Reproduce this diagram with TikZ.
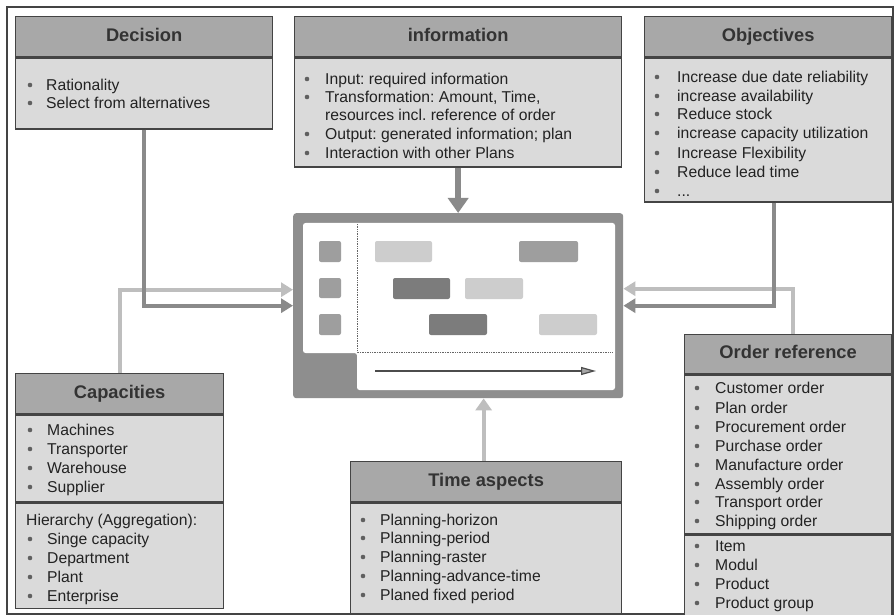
\documentclass[tikz,border=0pt]{standalone}
\usepackage{fontspec}
\setmainfont{Liberation Sans}
\usetikzlibrary{arrows.meta}
\frenchspacing

\definecolor{hdrgray}{HTML}{A8A8A8}
\definecolor{bodygray}{HTML}{DADADA}
\definecolor{edgegray}{HTML}{444444}
\definecolor{txtgray}{HTML}{222222}
\definecolor{bulletgray}{HTML}{606060}
\definecolor{framegray}{HTML}{8E8E8E}
\definecolor{barlight}{HTML}{CDCDCD}
\definecolor{barmid}{HTML}{9E9E9E}
\definecolor{bardark}{HTML}{7C7C7C}
\definecolor{flowdark}{HTML}{8A8A8A}
\definecolor{flowlight}{HTML}{BEBEBE}

% one bulleted line: name, bullet x, text x, y, text
\newcommand{\bitem}[5]{%
  \fill[bulletgray] (#2,#4) circle (2.3pt);
  \node[itemtext] (#1) at (#3,#4) {#5};}
% one plain line: name, text x, y, text
\newcommand{\pitem}[4]{\node[itemtext] (#1) at (#2,#3) {#4};}

\begin{document}
\begin{tikzpicture}[x=1pt,y=-1pt,
  hdr/.style={draw=edgegray, fill=hdrgray, line width=1.3pt, anchor=north west,
    inner sep=0pt, minimum height=40pt, text height=13pt, text depth=4pt,
    font=\fontsize{18.3}{22}\selectfont\bfseries, text=black!80},
  body/.style={draw=edgegray, fill=bodygray, line width=1.3pt, anchor=north west,
    inner sep=0pt},
  itemtext/.style={anchor=base west, inner sep=0pt, yshift=-5.5pt,
    font=\fontsize{15.7}{19}\selectfont, text=txtgray},
  flowline/.style={line width=4pt, line join=miter,
    -{Triangle[width=14pt,length=12pt]}},
  bar/.style={rounded corners=2pt}
]
\useasboundingbox (0,0) rectangle (895,615);
\fill[white] (0,0) rectangle (895,615);
\draw[edgegray, line width=1.2pt] (7,7) rectangle (893,614);

% ---------- Decision ----------
\node[hdr, minimum width=257pt] (decH) at (15,16) {Decision};
\node[body, minimum width=257pt, minimum height=71pt] (decB) at (decH.south west) {};
\bitem{dec1}{30}{46}{85}{Rationality}
\bitem{dec2}{30}{46}{103}{Select from alternatives}

% ---------- Information ----------
\node[hdr, minimum width=327pt] (infoH) at (294,16) {information};
\node[body, minimum width=327pt, minimum height=109pt] (infoB) at (infoH.south west) {};
\bitem{inf1}{307}{325}{79}{Input: required information}
\bitem{inf2}{307}{325}{97}{Transformation: Amount, Time,}
\pitem{inf3}{325}{115}{resources incl. reference of order}
\bitem{inf4}{307}{325}{134}{Output: generated information; plan}
\bitem{inf5}{307}{325}{153}{Interaction with other Plans}

% ---------- Objectives ----------
\node[hdr, minimum width=247pt] (objH) at (644,16) {Objectives};
\node[body, minimum width=247pt, minimum height=144pt] (objB) at (objH.south west) {};
\bitem{obj1}{657}{677}{77}{Increase due date reliability}
\bitem{obj2}{657}{677}{96}{increase availability}
\bitem{obj3}{657}{677}{114}{Reduce stock}
\bitem{obj4}{657}{677}{133}{increase capacity utilization}
\bitem{obj5}{657}{677}{153}{Increase Flexibility}
\bitem{obj6}{657}{677}{172}{Reduce lead time}
\bitem{obj7}{657}{677}{191}{...}

% ---------- Capacities ----------
\node[hdr, minimum width=208pt] (capH) at (15,373) {Capacities};
\node[body, minimum width=208pt, minimum height=87pt] (capB1) at (capH.south west) {};
\node[body, minimum width=208pt, minimum height=105pt] (capB2) at (capB1.south west) {};
\bitem{cap1}{30}{47}{430}{Machines}
\bitem{cap2}{30}{47}{449}{Transporter}
\bitem{cap3}{30}{47}{468}{Warehouse}
\bitem{cap4}{30}{47}{487}{Supplier}
\pitem{cap5}{26}{520}{Hierarchy (Aggregation):}
\bitem{cap6}{30}{47}{539}{Singe capacity}
\bitem{cap7}{30}{47}{558}{Department}
\bitem{cap8}{30}{47}{577}{Plant}
\bitem{cap9}{30}{47}{596}{Enterprise}

% ---------- Time aspects ----------
\node[hdr, minimum width=271pt] (timeH) at (350,461) {Time aspects};
\node[body, minimum width=271pt, minimum height=111pt] (timeB) at (timeH.south west) {};
\bitem{tim1}{363}{380}{520}{Planning-horizon}
\bitem{tim2}{363}{380}{538}{Planning-period}
\bitem{tim3}{363}{380}{557}{Planning-raster}
\bitem{tim4}{363}{380}{576}{Planning-advance-time}
\bitem{tim5}{363}{380}{595}{Planed fixed period}

% ---------- Order reference ----------
\node[hdr, minimum width=207pt, minimum height=39pt] (ordH) at (684,334) {Order reference};
\node[body, minimum width=207pt, minimum height=159pt] (ordB1) at (ordH.south west) {};
\node[body, minimum width=207pt, minimum height=81pt] (ordB2) at (ordB1.south west) {};
\bitem{ord1}{697}{715}{388}{Customer order}
\bitem{ord2}{697}{715}{408}{Plan order}
\bitem{ord3}{697}{715}{427}{Procurement order}
\bitem{ord4}{697}{715}{446}{Purchase order}
\bitem{ord5}{697}{715}{465}{Manufacture order}
\bitem{ord6}{697}{715}{484}{Assembly order}
\bitem{ord7}{697}{715}{502}{Transport order}
\bitem{ord8}{697}{715}{521}{Shipping order}
\bitem{ord9}{697}{715}{546}{Item}
\bitem{ord10}{697}{715}{565}{Modul}
\bitem{ord11}{697}{715}{584}{Product}
\bitem{ord12}{697}{715}{603}{Product group}

% ---------- Plan (Gantt window) ----------
\node[fill=framegray, rounded corners=3pt, minimum width=330pt, minimum height=185pt,
  anchor=north west, inner sep=0pt] (plan) at (293,213) {};
\fill[white, rounded corners=2.5pt] (303,223) -- (615,223) -- (615,390) -- (357,390)
  -- (357,353) -- (303,353) -- cycle;
\draw[densely dotted, black!60, line width=0.7pt] (357,224) -- (357,352) -- (613,352);
% resource markers
\fill[barmid, bar] (319,241) rectangle (341,262);
\fill[barmid, bar] (319,278) rectangle (341,298);
\fill[barmid, bar] (319,314) rectangle (341,335);
% scheduled orders
\fill[barlight, bar] (375,241) rectangle (432,262);
\fill[barmid,   bar] (519,241) rectangle (578,262);
\fill[bardark,  bar] (393,278) rectangle (450,299);
\fill[barlight, bar] (465,278) rectangle (523,299);
\fill[bardark,  bar] (429,314) rectangle (487,335);
\fill[barlight, bar] (539,314) rectangle (597,335);
% time axis
\draw[black!70, line width=1.2pt, -{Triangle[width=8pt,length=15pt,fill=black!35]}]
  (375,371) -- (596,371);

% ---------- Connectors ----------
\draw[flowline, flowlight] (capH.north) |- ([yshift=16pt]plan.west);
\draw[flowline, flowlight] ([xshift=4.5pt]ordH.north) |- ([yshift=17pt]plan.east);
\draw[flowline, flowdark] (decB.south) |- (plan.west);
\draw[flowline, flowdark] ([xshift=5.5pt]objB.south) |- (plan.east);
\draw[flowline, flowdark, line width=6pt, -{Triangle[width=20pt,length=15pt]}]
  (infoB.south) -- (infoB.south |- plan.north);
\coordinate (tA) at ([xshift=-2.5pt]timeH.north);
\draw[flowline, flowlight, -{Triangle[width=16pt,length=12pt]}] (tA) -- (tA |- plan.south);
\end{tikzpicture}
\end{document}
